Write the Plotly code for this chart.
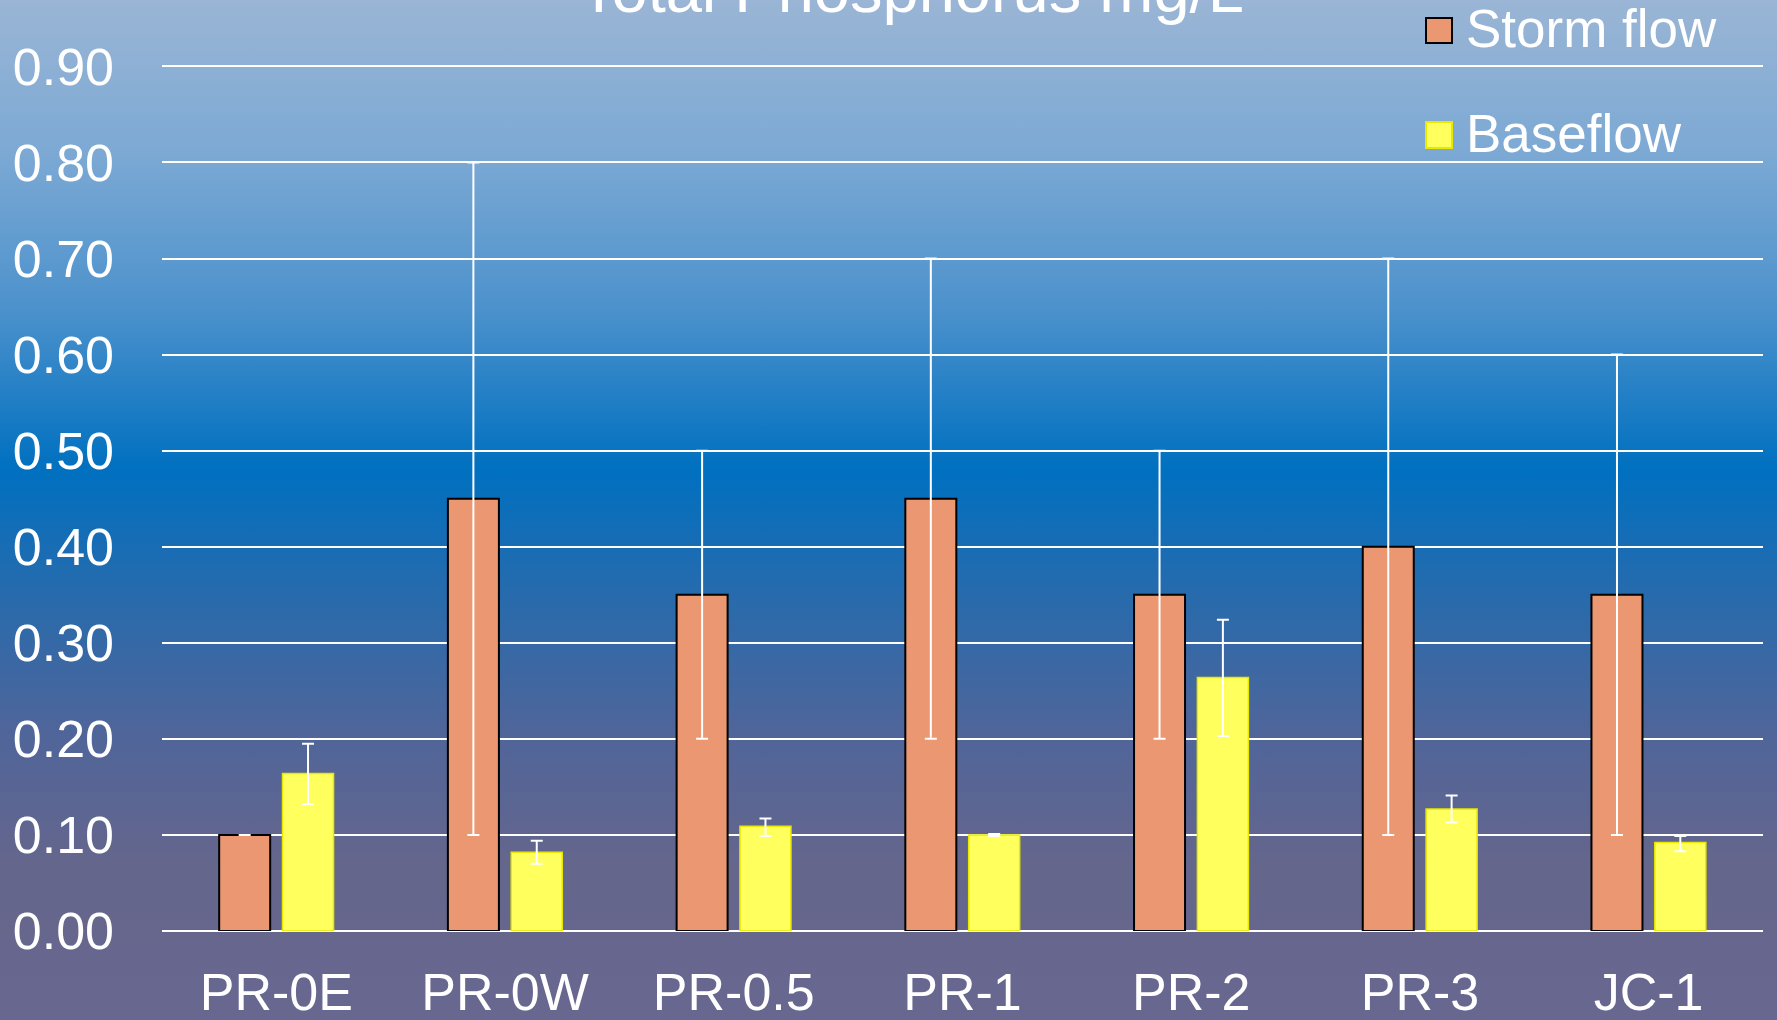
import base64
import plotly.graph_objects as go

# ---------------- data ----------------
sites = ["PR-0E", "PR-0W", "PR-0.5", "PR-1", "PR-2", "PR-3", "JC-1"]
storm_mean = [0.10, 0.45, 0.35, 0.45, 0.35, 0.40, 0.35]
storm_min = [0.10, 0.10, 0.20, 0.20, 0.20, 0.10, 0.10]
storm_max = [0.10, 0.80, 0.50, 0.70, 0.50, 0.70, 0.60]
base_mean = [0.164, 0.082, 0.109, 0.100, 0.264, 0.127, 0.092]
base_min = [0.132, 0.070, 0.099, 0.099, 0.203, 0.113, 0.083]
base_max = [0.195, 0.094, 0.117, 0.101, 0.324, 0.141, 0.099]
y_ticks = [0.0, 0.1, 0.2, 0.3, 0.4, 0.5, 0.6, 0.7, 0.8, 0.9]
y_tick_text = ["0.00", "0.10", "0.20", "0.30", "0.40", "0.50", "0.60", "0.70", "0.80", "0.90"]
title_text = "Total Phosphorus mg/L"
legend_names = ["Storm flow", "Baseflow"]

# ---------------- layout constants ----------------
W, H = 1777, 1020
ML, MR, MT, MB = 162, 14, 64, 89
PW, PH = W - ML - MR, H - MT - MB
FONT = "Liberation Sans, Arial, sans-serif"
STORM_FILL = "#ea9772"
BASE_FILL = "#ffff5e"


def px_x(px):
    return (px - ML) / PW


def px_y(py):
    return (H - MB - py) / PH


storm_plus = [mx - m for mx, m in zip(storm_max, storm_mean)]
storm_minus = [m - mn for mn, m in zip(storm_min, storm_mean)]
base_plus = [mx - m for mx, m in zip(base_max, base_mean)]
base_minus = [m - mn for mn, m in zip(base_min, base_mean)]

fig = go.Figure()
fig.add_trace(go.Bar(
    x=sites, y=storm_mean, name=legend_names[0],
    width=0.223, offset=-0.25,
    marker=dict(color=STORM_FILL, line=dict(color="#000000", width=2)),
    error_y=dict(type="data", symmetric=False, array=storm_plus, arrayminus=storm_minus,
                 color="white", thickness=2, width=6),
    showlegend=False,
))
fig.add_trace(go.Bar(
    x=sites, y=base_mean, name=legend_names[1],
    width=0.223, offset=0.027,
    marker=dict(color=BASE_FILL, line=dict(color="#e8e800", width=1.5)),
    error_y=dict(type="data", symmetric=False, array=base_plus, arrayminus=base_minus,
                 color="white", thickness=2, width=6),
    showlegend=False,
))

# gradient background (SVG image)
stops = [
    (0.00, "#9ab5d5"), (0.15, "#7ca9d4"), (0.30, "#4d92cc"), (0.46, "#0070c0"),
    (0.60, "#2c6aaa"), (0.72, "#50659a"), (0.85, "#65668c"), (1.00, "#686790"),
]
stop_xml = "".join(f'<stop offset="{o}" stop-color="{c}"/>' for o, c in stops)
svg = (f'<svg xmlns="http://www.w3.org/2000/svg" width="{W}" height="{H}" '
       f'viewBox="0 0 {W} {H}" preserveAspectRatio="none">'
       f'<defs><linearGradient id="g" x1="0" y1="0" x2="0" y2="1">{stop_xml}</linearGradient></defs>'
       f'<rect x="0" y="0" width="{W}" height="{H}" fill="url(#g)"/></svg>')
src = "data:image/svg+xml;base64," + base64.b64encode(svg.encode()).decode()

shapes = []
annotations = []
# manual legend
leg_items = [(legend_names[0], STORM_FILL, "#000000", 18, 43, 29),
             (legend_names[1], BASE_FILL, "#e8e800", 122, 148, 133)]
for name, fill, line, y0, y1, yc in leg_items:
    shapes.append(dict(type="rect", xref="paper", yref="paper",
                       x0=px_x(1426), x1=px_x(1452), y0=px_y(y1), y1=px_y(y0),
                       fillcolor=fill, line=dict(color=line, width=2)))
    annotations.append(dict(text=name, xref="paper", yref="paper", x=px_x(1464), y=px_y(yc),
                            xanchor="left", yanchor="middle", showarrow=False,
                            font=dict(family=FONT, size=53, color="white")))

annotations.append(dict(text=title_text, xref="paper", yref="paper", x=px_x(911), y=px_y(28),
                        xanchor="center", yanchor="bottom", showarrow=False,
                        font=dict(family=FONT, size=65, color="white")))

fig.update_layout(
    template="none",
    width=W, height=H,
    margin=dict(l=ML, r=MR, t=MT, b=MB, pad=0, autoexpand=False),
    paper_bgcolor="#6a8fbf",
    plot_bgcolor="rgba(0,0,0,0)",
    images=[dict(source=src, xref="paper", yref="paper", x=-ML / PW, y=1 + MT / PH,
                 sizex=W / PW, sizey=H / PH, sizing="stretch", xanchor="left", yanchor="top",
                 layer="below")],
    shapes=shapes,
    annotations=annotations,
    barmode="overlay",
    font=dict(family=FONT, color="white", size=52),
    xaxis=dict(range=[-0.5, 6.5], showgrid=False, zeroline=False, showline=False,
               ticks="", automargin=False,
               tickfont=dict(family=FONT, size=52, color="white"), ticklabelstandoff=26,
               fixedrange=True),
    yaxis=dict(range=[0, 0.9025], tickvals=y_ticks, ticktext=y_tick_text,
               showgrid=True, gridcolor="white", gridwidth=2,
               zeroline=True, zerolinecolor="white", zerolinewidth=2,
               ticks="", automargin=False,
               showline=False, tickfont=dict(family=FONT, size=52, color="white"),
               ticklabelstandoff=47, fixedrange=True),
)

fig.write_html("out.html", config={"displayModeBar": False},
               post_script="document.body.style.margin='0';document.body.style.overflow='hidden';")
